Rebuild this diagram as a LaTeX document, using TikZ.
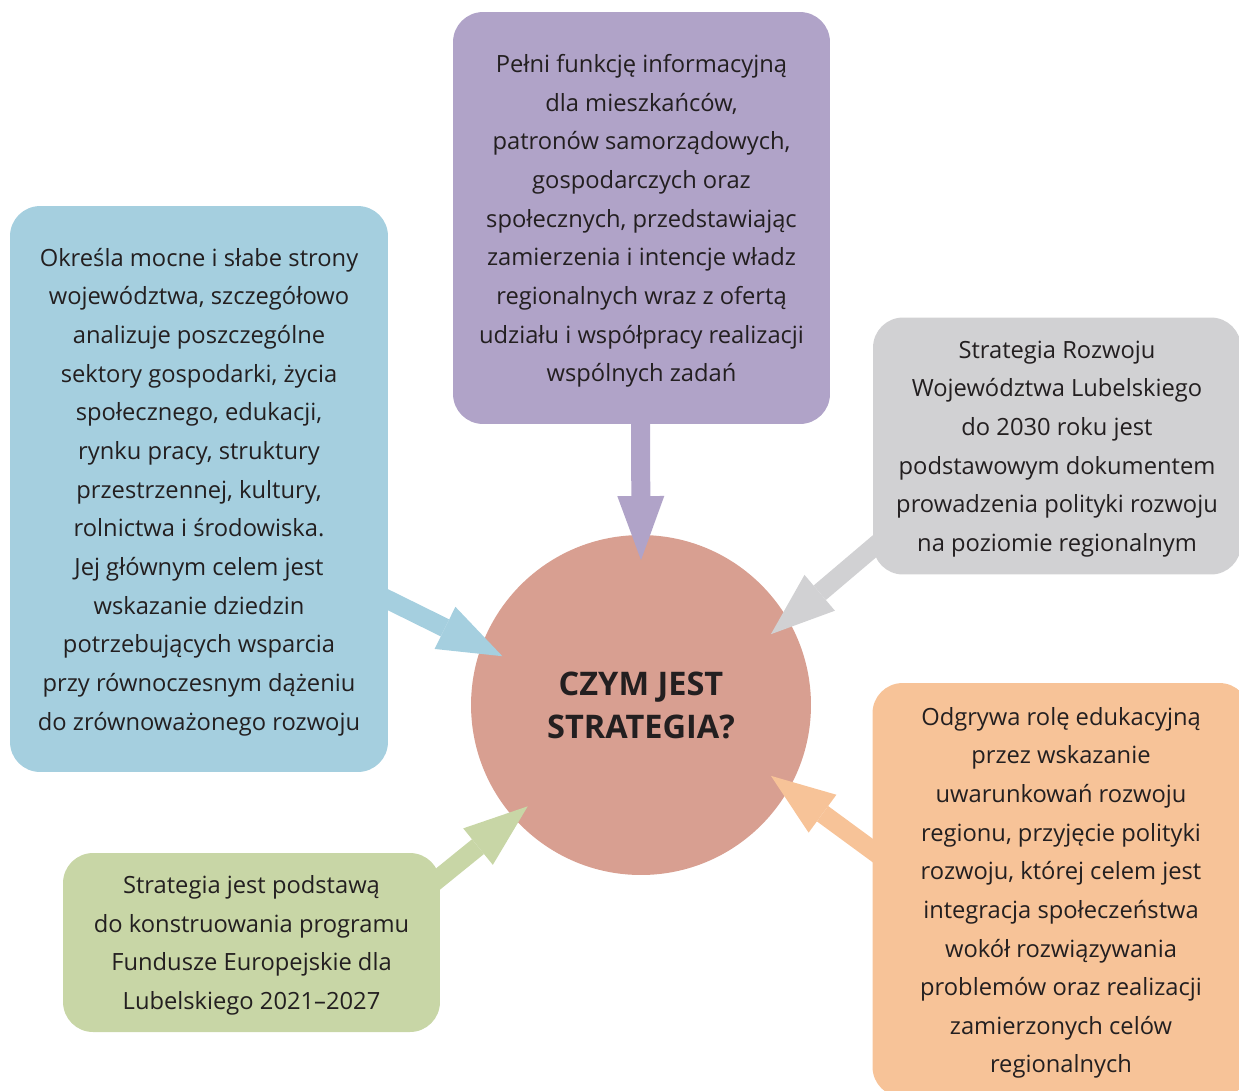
\documentclass[tikz,border=0pt]{standalone}
\usepackage{fontspec}
\setmainfont{Open Sans}
\usetikzlibrary{arrows.meta}
\definecolor{txt}{HTML}{231F20}
\definecolor{purp}{HTML}{B0A3C8}
\definecolor{sky}{HTML}{A5CFDF}
\definecolor{ash}{HTML}{D1D1D3}
\definecolor{peach}{HTML}{F7C398}
\definecolor{sage}{HTML}{C8D6A6}
\definecolor{rose}{HTML}{D89F91}
\tikzset{
  box/.style = {
    rounded corners=0.6cm, inner sep=0pt, align=center, text=txt,
    text depth=-0.05cm, font=\fontsize{13.5}{22}\selectfont
  },
  pointer/.style = {
    line width=0.38cm,
    -{Triangle[width=0.94cm,length=1.28cm,line width=0pt]}
  }
}

\begin{document}
\begin{tikzpicture}[x=0.02cm,y=-0.02cm]
  \useasboundingbox (0,0) rectangle (1239,1090);
  \node[circle, fill=rose, minimum size=6.8cm, inner sep=0pt, text=txt,
        align=center, font=\fontsize{18.5}{24.4}\selectfont\bfseries]
    (circ) at (641,705) {CZYM JEST\\STRATEGIA?};
  \node[box, fill=purp, minimum width=7.54cm, minimum height=8.24cm]
    (info) at (641.5,218) {Pełni funkcję informacyjną\\dla mieszkańców,\\patronów samorządowych,\\gospodarczych oraz\\społecznych, przedstawiając\\zamierzenia i intencje władz\\regionalnych wraz z ofertą\\udziału i współpracy realizacji\\wspólnych zadań};
  \node[box, fill=sky, minimum width=7.56cm, minimum height=11.32cm]
    (sectors) at (199,489) {Określa mocne i słabe strony\\województwa, szczegółowo\\analizuje poszczególne\\sektory gospodarki, życia\\społecznego, edukacji,\\rynku pracy, struktury\\przestrzennej, kultury,\\rolnictwa i środowiska.\\Jej głównym celem jest\\wskazanie dziedzin\\potrzebujących wsparcia\\przy równoczesnym dążeniu\\do zrównoważonego rozwoju};
  \node[box, fill=ash, minimum width=7.36cm, minimum height=5.14cm]
    (basis) at (1057,446) {Strategia Rozwoju\\Województwa Lubelskiego\\do 2030 roku jest\\podstawowym dokumentem\\prowadzenia polityki rozwoju\\na poziomie regionalnym};
  \node[box, fill=peach, minimum width=7.54cm, minimum height=8.28cm]
    (edu) at (1061,890) {Odgrywa rolę edukacyjną\\przez wskazanie\\uwarunkowań rozwoju\\regionu, przyjęcie polityki\\rozwoju, której celem jest\\integracja społeczeństwa\\wokół rozwiązywania\\problemów oraz realizacji\\zamierzonych celów\\regionalnych};
  \node[box, fill=sage, minimum width=7.54cm, minimum height=3.58cm, text depth=-0.2cm]
    (funds) at (251.5,942.5) {Strategia jest podstawą\\do konstruowania programu\\Fundusze Europejskie dla\\Lubelskiego 2021–2027};
  % arrows into the circle
  \draw[pointer, purp] ([shift={(-1,-14)}]info.south) -- ([shift={(90:2.9cm)}]circ.center);
  \draw[pointer, sky] ([shift={(-18,102)}]sectors.east) -- ([shift={(160.6:2.94cm)}]circ.center);
  \draw[pointer, ash] ([shift={(21,84)}]basis.west) -- ([shift={(28.6:2.96cm)}]circ.center);
  \draw[pointer, peach] ([shift={(23,-23)}]edu.west) -- ([shift={(331.4:2.96cm)}]circ.center);
  \draw[pointer, sage] ([shift={(-22,-47.5)}]funds.east) -- ([shift={(221.8:3.04cm)}]circ.center);
\end{tikzpicture}
\end{document}
